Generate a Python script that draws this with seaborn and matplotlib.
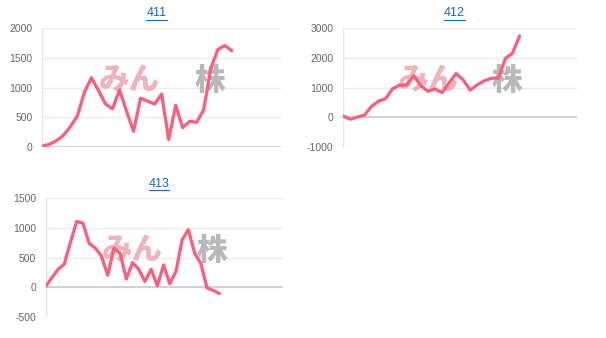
import matplotlib
matplotlib.use("Agg")
import matplotlib.pyplot as plt
from matplotlib.lines import Line2D
import numpy as np
import pandas as pd
import seaborn as sns

# ---- data ----
titles = ["411", "412", "413"]
values_411 = [10, 40, 100, 190, 340, 520, 920, 1165, 950, 720, 640, 960, 600, 260,
              820, 770, 720, 890, 120, 700, 320, 430, 410, 630, 1320, 1640, 1710, 1620]
values_412 = [30, -70, 0, 70, 360, 540, 620, 960, 1080, 1090, 1390, 1060, 870, 950,
              830, 1150, 1470, 1260, 910, 1090, 1225, 1315, 1315, 1980, 2160, 2740]
values_413 = [10, 160, 300, 390, 760, 1110, 1080, 740, 660, 520, 200, 660, 570, 135,
              415, 300, 95, 300, 20, 375, 55, 265, 800, 970, 575, 400, -15, -55, -110]
yticks_411 = [0, 500, 1000, 1500, 2000]
yticks_412 = [-1000, 0, 1000, 2000, 3000]
yticks_413 = [-500, 0, 500, 1000, 1500]
watermark_a = "みん"
watermark_b = "株"

sns.set_style("white")
plt.rcParams['font.family'] = ['Liberation Sans', 'DejaVu Sans']

fig = plt.figure(figsize=(6.06, 3.38), dpi=100)
W, H = 606, 338

def rect(l, r, t, b):
    return [l / W, 1 - b / H, (r - l) / W, (b - t) / H]

panels = [
    (titles[0], values_411, yticks_411, rect(42.3, 281, 28.3, 146.7), 34.0, (156.5, 13.5)),
    (titles[1], values_412, yticks_412, rect(343.3, 577, 28.3, 146.7), 33.15, (454.5, 13.5)),
    (titles[2], values_413, yticks_413, rect(45.7, 283.3, 198.3, 316.7), 38.3, (159.0, 183.5)),
]

line_color = "#ff5c7a"
title_color = "#1166cc"
title_texts = []
for title, vals, yt, r, xmax, tpos in panels:
    ax = fig.add_axes(r)
    df = pd.DataFrame({"x": np.arange(len(vals)), "v": vals})
    sns.lineplot(data=df, x="x", y="v", ax=ax, color=line_color, lw=2.3,
                 zorder=5, solid_joinstyle="round", solid_capstyle="round")
    ax.set_xlim(0, xmax)
    ax.set_ylim(yt[0], yt[-1])
    ax.set_yticks(yt)
    ax.set_yticklabels([str(t) for t in yt])
    ax.set_xticks([])
    ax.set_xlabel("")
    ax.set_ylabel("")
    for s in ax.spines.values():
        s.set_visible(False)
    ax.grid(axis='y', color='#ebebeb', lw=1, zorder=0)
    ax.axhline(0, color='#cccccc', lw=1.2, zorder=1)
    ax.axvline(0, color='#e2e2e2', lw=1, zorder=1)
    ax.tick_params(axis='y', length=0, pad=7, labelsize=7.5, labelcolor='#666666')
    ax.patch.set_alpha(0)
    # watermark
    ax.text(0.235, 0.56, watermark_a, transform=ax.transAxes, ha='left', va='center',
            fontsize=22, fontweight='black', color='#eeb3bb',
            family=['Noto Sans CJK JP'], zorder=2)
    ax.text(0.70, 0.56, watermark_b, transform=ax.transAxes, ha='center', va='center',
            fontsize=22, fontweight='black', color='#b8b8b8',
            family=['Noto Sans CJK JP'], zorder=2)
    t = fig.text(tpos[0] / W, 1 - tpos[1] / H, title, ha='center', va='center',
                 fontsize=9, color=title_color)
    title_texts.append(t)

fig.canvas.draw()
renderer = fig.canvas.get_renderer()
for t in title_texts:
    bb = t.get_window_extent(renderer)
    y = bb.y0 - 0.5
    fig.add_artist(Line2D([bb.x0 / W, bb.x1 / W], [y / H, y / H],
                          transform=fig.transFigure, color=title_color, lw=0.8))

fig.savefig("out.png", dpi=100)
